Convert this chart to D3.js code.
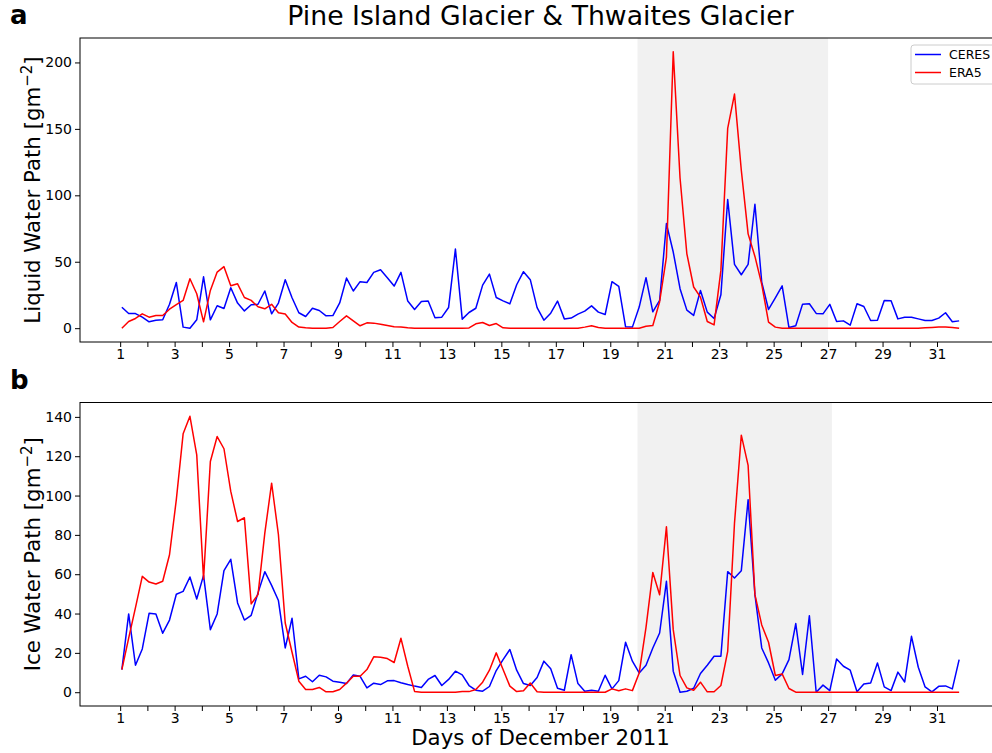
<!DOCTYPE html>
<html>
<head>
<meta charset="utf-8">
<script src="https://cdn.jsdelivr.net/npm/d3@7"></script>
<style>
  html, body { margin: 0; padding: 0; background: #fff; }
  svg { display: block; font-family: "DejaVu Sans", sans-serif; }
</style>
</head>
<body>
<svg id="chart" width="992" height="753"></svg>
<script>
// Day-of-month ticks (every day, odd days labelled)
const days = d3.range(1, 32);
const dayLabels = days.map(d => (d % 2 ? String(d) : ""));
const lwpTicks = [0, 50, 100, 150, 200];
const iwpTicks = [0, 20, 40, 60, 80, 100, 120, 140];

// 6-hourly samples, first one at 01:30 on 1 December
const firstHour = 1.5;
const stepHours = 6;

// Liquid water path [g m-2]
const lwpCeres = [15.8, 11, 11, 8.3, 4.8, 6, 6.3, 18, 34.4, 0.8,
  0, 6.3, 38.7, 6.3, 16.9, 14.8, 30.4, 18.9, 13, 17.6,
  18, 28, 10.8, 18.9, 36.5, 22.9, 11.6, 8.8, 15, 13.3,
  9.3, 9.5, 19, 37.7, 28, 35, 34.4, 42, 44, 38,
  31.7, 42, 20.4, 14, 20, 20.4, 7.8, 8.3, 15.6, 59.6,
  6.8, 11.8, 15, 32.4, 40.7, 23.1, 20.6, 18.3, 32.7, 42.5,
  36.5, 15.5, 6, 11.3, 20.4, 7, 7.6, 10.6, 12.8, 16.8,
  12.1, 10.3, 35, 31.4, 1, 0.8, 15.9, 38, 12.3, 20.9,
  78.7, 57.3, 29.7, 13.6, 9.6, 28.4, 12.1, 7.3, 25.1, 96.8,
  48, 40.2, 48, 93.3, 34.7, 14.1, 22.9, 31.9, 0.5, 1.8,
  18.1, 18.4, 11.1, 10.8, 17.9, 5, 5.5, 2.3, 18.4, 16.3,
  5.8, 6, 20.9, 20.6, 7, 8.3, 8.3, 7, 5.8, 5.8,
  7.6, 11.6, 4.8, 5.5];
const lwpEra5 = [0, 5, 7.3, 10.8, 8.3, 9.5, 9.5, 14.3, 17.8, 20.9,
  37.2, 25.9, 4.8, 28.4, 42.2, 46.3, 31.9, 33.4, 23.1, 20.9,
  16.1, 14.6, 18, 11.6, 10.6, 4.3, 0.8, 0.3, 0, 0,
  0, 0.5, 5, 9.3, 5.5, 1.8, 4, 3.8, 3, 2,
  1, 0.8, 0.3, 0, 0, 0, 0, 0, 0, 0,
  0, 0.2, 3.3, 4.3, 2, 3.5, 0.3, 0, 0, 0,
  0, 0, 0, 0, 0, 0, 0, 0, 0.8, 1.8,
  0.5, 0, 0, 0, 0, 0, 0, 1.5, 2, 19.9,
  53.5, 208, 113, 56, 31, 23.4, 5, 2.5, 43.5, 150.4,
  176.2, 118.9, 71, 54, 33, 4.6, 0.8, 0, 0, 0,
  0, 0, 0, 0, 0, 0, 0, 0, 0, 0,
  0, 0, 0, 0, 0, 0, 0, 0, 0.3, 0.5,
  0.8, 0.8, 0.5, 0];

// Ice water path [g m-2]
const iwpCeres = [11.5, 39.8, 13.7, 22, 40.1, 39.8, 30, 36.7, 49.8, 51.3,
  58.6, 47.4, 59.4, 31.8, 39.8, 61.8, 67.6, 45.4, 36.7, 39.1,
  50.5, 61.3, 54.3, 46.6, 22.5, 37.6, 6.8, 8.1, 5.3, 8.6,
  7.8, 5.6, 5.1, 4.4, 8.8, 8.1, 2.2, 4.6, 3.9, 5.8,
  5.9, 4.8, 3.9, 3.1, 2.4, 6.5, 8.5, 3.4, 6.5, 10.7,
  8.8, 3.4, 1, 0.5, 2.9, 11, 16.6, 21.7, 11.2, 4.4,
  3.4, 7.5, 15.8, 11.9, 2, 1, 19.1, 4.4, 0.5, 1,
  0.5, 8.6, 1.7, 5.9, 25.4, 15.8, 9.8, 13.7, 22.5, 30.1,
  56.4, 10.7, 0, 0.5, 2, 9.5, 13.7, 18.3, 18.3, 61.3,
  58.1, 61.8, 97.9, 49.6, 22.5, 14.9, 6.1, 9.3, 16.6, 34.9,
  9, 38.9, 0, 3.6, 0.8, 16.9, 13.2, 11.2, 0.2, 4.2,
  4.7, 14.9, 2.7, 0.8, 10.2, 5.2, 28.4, 12.7, 2.7, 0.2,
  3, 3.2, 1.7, 16.6];
const iwpEra5 = [11.5, 27.5, 43, 58.9, 56, 55, 56.4, 69.9, 97.9, 131.4,
  140.3, 120.7, 57.5, 117.3, 130, 123.8, 102.1, 86.8, 88.7, 44.9,
  49.6, 80.9, 106.3, 80.1, 35.2, 20.3, 5.6, 1.4, 1.4, 2.4,
  0.2, 0.2, 1.4, 4.6, 8.1, 8.1, 11.5, 18, 17.8, 17.1,
  15.1, 27.4, 13.2, 0.4, 0, 0, 0, 0, 0, 0,
  0.3, 0.3, 1.4, 5.1, 11.2, 20, 11.5, 3.1, 0.3, 0.7,
  4.7, 0.2, 0, 0, 0, 0, 0, 0, 0, 0,
  0, 0, 1.7, 0.7, 1.7, 0.8, 9.8, 33, 60.9, 49.6,
  84.1, 31.8, 8.5, 2.2, 1, 5.1, 0.2, 0.2, 3.4, 20.8,
  86, 130.7, 115.3, 49.6, 34.2, 25.4, 8.5, 9.3, 1.9, 0,
  0, 0, 0, 0, 0, 0, 0, 0, 0, 0,
  0, 0, 0, 0, 0, 0, 0, 0, 0, 0,
  0, 0, 0, 0];

const seriesNames = ["CERES", "ERA5"];
const seriesColors = ["#0000ff", "#ff0000"];

// Highlighted event window, in days
const eventSpanA = [20, 27];
const eventSpanB = [20, 27.14];

const times = lwpCeres.map((_, i) => 1 + (firstHour + i * stepHours) / 24);

const svg = d3.select("#chart");
const axLeft = 80, axRight = 1001;

function padded(lo, hi) {
  const m = (hi - lo) * 0.05;
  return [lo - m, hi + m];
}

const x = d3.scaleLinear()
  .domain(padded(times[0], times[times.length - 1]))
  .range([axLeft, axRight]);

const panels = [
  { tag: "a", top: 38, bottom: 342, series: [lwpCeres, lwpEra5], ticks: lwpTicks,
    label: "Liquid Water Path", span: eventSpanA, legend: true },
  { tag: "b", top: 402.5, bottom: 706, series: [iwpCeres, iwpEra5], ticks: iwpTicks,
    label: "Ice Water Path", span: eventSpanB, legend: false }
];

panels.forEach(p => {
  const all = p.series.flat();
  const y = d3.scaleLinear()
    .domain(padded(d3.min(all), d3.max(all)))
    .range([p.bottom, p.top]);

  const g = svg.append("g");
  const clipId = "clip-" + p.tag;
  svg.append("clipPath").attr("id", clipId)
    .append("rect")
    .attr("x", axLeft).attr("y", p.top)
    .attr("width", axRight - axLeft).attr("height", p.bottom - p.top);

  // event shading
  g.append("rect")
    .attr("x", x(p.span[0])).attr("y", p.top)
    .attr("width", x(p.span[1]) - x(p.span[0]))
    .attr("height", p.bottom - p.top)
    .attr("fill", "#f1f1f1");

  // series lines
  const line = d3.line().x((d, i) => x(times[i])).y(d => y(d));
  const lines = g.append("g").attr("clip-path", `url(#${clipId})`);
  p.series.forEach((s, j) => {
    lines.append("path")
      .datum(s)
      .attr("d", line)
      .attr("fill", "none")
      .attr("stroke", seriesColors[j])
      .attr("stroke-width", 1.5)
      .attr("stroke-linejoin", "round");
  });

  // axes
  const xAxis = d3.axisBottom(x)
    .tickValues(days)
    .tickFormat((d, i) => dayLabels[i])
    .tickSize(5).tickPadding(2);
  const gx = g.append("g")
    .attr("transform", `translate(0,${p.bottom})`)
    .call(xAxis);
  const yAxis = d3.axisLeft(y)
    .tickValues(p.ticks)
    .tickSize(5).tickPadding(3);
  const gy = g.append("g")
    .attr("transform", `translate(${axLeft},0)`)
    .call(yAxis);
  [gx, gy].forEach(ax => {
    ax.select(".domain").remove();
    ax.selectAll(".tick line").attr("stroke", "#000").attr("stroke-width", 1);
    ax.selectAll(".tick text")
      .attr("fill", "#000")
      .style("font-family", "DejaVu Sans, sans-serif")
      .style("font-size", "14px");
  });

  // frame
  g.append("rect")
    .attr("x", axLeft).attr("y", p.top)
    .attr("width", axRight - axLeft).attr("height", p.bottom - p.top)
    .attr("fill", "none").attr("stroke", "#000").attr("stroke-width", 1);

  // y label with superscript unit
  const yl = g.append("text")
    .attr("transform", `translate(40,${(p.top + p.bottom) / 2}) rotate(-90)`)
    .attr("text-anchor", "middle")
    .style("font-size", "21.3px")
    .attr("fill", "#000");
  yl.append("tspan").text(p.label + " [gm");
  yl.append("tspan").attr("dy", -8).style("font-size", "15px").text("\u22122");
  yl.append("tspan").attr("dy", 8).text("]");

  // panel tag
  svg.append("text")
    .attr("x", 10).attr("y", p.top - 14)
    .style("font-size", "26px").style("font-weight", "bold")
    .attr("fill", "#000")
    .text(p.tag);

  if (p.legend) {
    const lg = g.append("g").attr("transform", "translate(911,45)");
    lg.append("rect")
      .attr("x", 0).attr("y", 0).attr("width", 86).attr("height", 39)
      .attr("rx", 3)
      .attr("fill", "#fff").attr("fill-opacity", 0.8)
      .attr("stroke", "#cccccc").attr("stroke-width", 1);
    seriesNames.forEach((name, j) => {
      const yy = 9.5 + j * 18;
      lg.append("line")
        .attr("x1", 4).attr("x2", 30).attr("y1", yy).attr("y2", yy)
        .attr("stroke", seriesColors[j]).attr("stroke-width", 1.5);
      lg.append("text")
        .attr("x", 38).attr("y", yy).attr("dy", "0.36em")
        .style("font-size", "12.5px").attr("fill", "#000")
        .text(name);
    });
  }
});

// title and shared x label
svg.append("text")
  .attr("x", (axLeft + axRight) / 2).attr("y", 25)
  .attr("text-anchor", "middle")
  .style("font-size", "26.7px").attr("fill", "#000")
  .text("Pine Island Glacier & Thwaites Glacier");

svg.append("text")
  .attr("x", (axLeft + axRight) / 2).attr("y", 745)
  .attr("text-anchor", "middle")
  .style("font-size", "21.3px").attr("fill", "#000")
  .text("Days of December 2011");
</script>
</body>
</html>
